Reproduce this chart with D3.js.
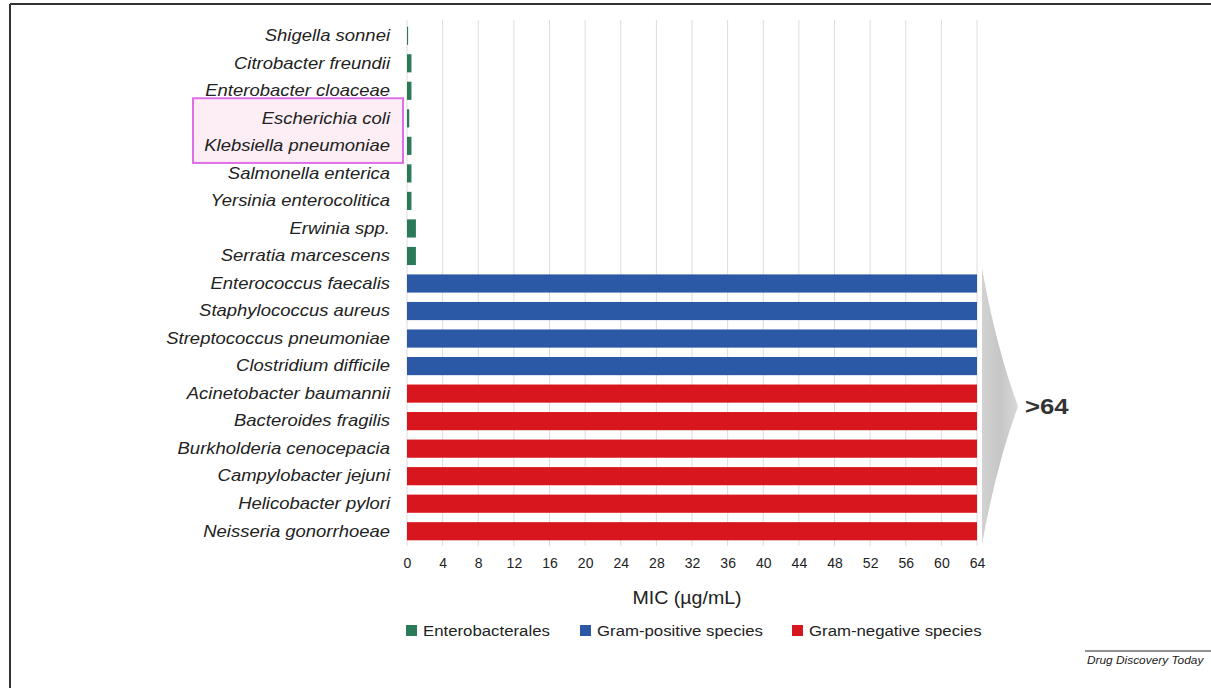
<!DOCTYPE html>
<html>
<head>
<meta charset="utf-8">
<script src="https://cdn.jsdelivr.net/npm/d3@7"></script>
<style>
  html, body { margin: 0; padding: 0; background: #fff; }
  svg { display: block; font-family: "Liberation Sans", Arial, sans-serif; }
</style>
</head>
<body>
<svg id="chart" width="1211" height="688"></svg>
<script>
// Species tested, top to bottom
const species = [
  "Shigella sonnei", "Citrobacter freundii", "Enterobacter cloaceae",
  "Escherichia coli", "Klebsiella pneumoniae", "Salmonella enterica",
  "Yersinia enterocolitica", "Erwinia spp.", "Serratia marcescens",
  "Enterococcus faecalis", "Staphylococcus aureus", "Streptococcus pneumoniae",
  "Clostridium difficile", "Acinetobacter baumannii", "Bacteroides fragilis",
  "Burkholderia cenocepacia", "Campylobacter jejuni", "Helicobacter pylori",
  "Neisseria gonorrhoeae"
];
// MIC values in µg/mL (64 stands for ">64")
const micValues = [
  0.125, 0.5, 0.5, 0.25, 0.5, 0.5, 0.5, 1, 1,
  64, 64, 64, 64,
  64, 64, 64, 64, 64, 64
];
// Group of each species
const groups = [
  "Enterobacterales", "Enterobacterales", "Enterobacterales",
  "Enterobacterales", "Enterobacterales", "Enterobacterales",
  "Enterobacterales", "Enterobacterales", "Enterobacterales",
  "Gram-positive species", "Gram-positive species", "Gram-positive species", "Gram-positive species",
  "Gram-negative species", "Gram-negative species", "Gram-negative species",
  "Gram-negative species", "Gram-negative species", "Gram-negative species"
];
const groupNames = ["Enterobacterales", "Gram-positive species", "Gram-negative species"];
const groupColors = ["#2a7a58", "#2c59a6", "#d8161d"];
const xTicks = [0, 4, 8, 12, 16, 20, 24, 28, 32, 36, 40, 44, 48, 52, 56, 60, 64];
const highlighted = ["Escherichia coli", "Klebsiella pneumoniae"];
const overflowLabel = ">64";

// text in this figure is set slightly wide
const STRETCH = 1.12;

const svg = d3.select("#chart");

// page frame (top and left rules) and journal credit
svg.append("line").attr("x1", 10).attr("x2", 1211).attr("y1", 4).attr("y2", 4)
  .attr("stroke", "#333").attr("stroke-width", 2);
svg.append("line").attr("x1", 10).attr("x2", 10).attr("y1", 4).attr("y2", 688)
  .attr("stroke", "#333").attr("stroke-width", 2);
svg.append("line").attr("x1", 1085).attr("x2", 1211).attr("y1", 651).attr("y2", 651)
  .attr("stroke", "#222").attr("stroke-width", 1);
svg.append("text").attr("transform", `translate(1087,664) scale(1.08,1)`)
  .attr("font-size", 11).attr("font-style", "italic").attr("fill", "#222")
  .text("Drug Discovery Today");

const x = d3.scaleLinear().domain([0, 64]).range([407, 977]);
const y = d3.scaleBand().domain(species).range([22, 545]).paddingInner(0.34).paddingOuter(0.17);
const color = d3.scaleOrdinal().domain(groupNames).range(groupColors);

// vertical gridlines
svg.append("g").selectAll("line").data(xTicks).join("line")
  .attr("x1", d => x(d)).attr("x2", d => x(d))
  .attr("y1", 20).attr("y2", 546)
  .attr("stroke", "#dcdcdc").attr("stroke-width", 1);

// highlight box around two species
const hlTop = y(highlighted[0]) - 11;
const hlBottom = y(highlighted[1]) + y.bandwidth() + 8;
svg.append("rect")
  .attr("x", 193).attr("y", hlTop)
  .attr("width", 210).attr("height", hlBottom - hlTop)
  .attr("fill", "#fceef4").attr("stroke", "#df6fe6").attr("stroke-width", 2);

// bars
const rows = species.map((s, i) => ({ s, v: micValues[i], g: groups[i] }));
svg.append("g").selectAll("rect").data(rows).join("rect")
  .attr("x", x(0))
  .attr("y", d => y(d.s))
  .attr("width", d => x(d.v) - x(0))
  .attr("height", y.bandwidth())
  .attr("fill", d => color(d.g));

// species labels
const yAxis = d3.axisLeft(y).tickSize(0).tickPadding(0);
const yg = svg.append("g").attr("transform", `translate(390,0)`).call(yAxis);
yg.select(".domain").remove();
yg.selectAll(".tick").attr("transform", d => `translate(0,${y(d) + y.bandwidth() / 2}) scale(${STRETCH},1)`);
yg.selectAll("text")
  .attr("font-size", 16.5).attr("font-style", "italic").attr("fill", "#222")
  .attr("font-family", "Liberation Sans, Arial, sans-serif");

// x axis tick labels
const xAxis = d3.axisBottom(x).tickValues(xTicks).tickSize(0).tickPadding(0);
const xg = svg.append("g").attr("transform", `translate(0,558)`).call(xAxis);
xg.select(".domain").remove();
xg.selectAll("text").attr("font-size", 14).attr("fill", "#222")
  .attr("font-family", "Liberation Sans, Arial, sans-serif");

svg.append("text").attr("transform", `translate(687,604) scale(${STRETCH},1)`)
  .attr("text-anchor", "middle")
  .attr("font-size", 17.5).attr("fill", "#222").text("MIC (µg/mL)");

// overflow chevron for the >64 species
const firstHigh = species[micValues.indexOf(64)];
const lastHigh = species[species.length - 1];
const defs = svg.append("defs");
const grad = defs.append("linearGradient").attr("id", "chev").attr("x1", 0).attr("x2", 1);
grad.append("stop").attr("offset", 0).attr("stop-color", "#d2d2d2");
grad.append("stop").attr("offset", 0.5).attr("stop-color", "#c6c6c6");
grad.append("stop").attr("offset", 1).attr("stop-color", "#d8d8d8");
const cTop = y(firstHigh) - 6, cBot = y(lastHigh) + y.bandwidth() + 4;
const cLeft = x(64) + 5, cTip = x(64) + 41, cMid = (cTop + cBot) / 2;
svg.append("path")
  .attr("d", `M${cLeft},${cTop} Q${cLeft + 14},${cMid - 60} ${cTip},${cMid} Q${cLeft + 14},${cMid + 60} ${cLeft},${cBot} Z`)
  .attr("fill", "url(#chev)");
svg.append("text").attr("transform", `translate(${cTip + 7},${cMid + 8}) scale(${STRETCH},1)`)
  .attr("font-size", 23).attr("font-weight", "bold").attr("fill", "#333")
  .text(overflowLabel);

// legend
const legendX = [406, 580, 792];
const lg = svg.append("g").selectAll("g").data(groupNames).join("g")
  .attr("transform", (d, i) => `translate(${legendX[i]},${625})`);
lg.append("rect").attr("width", 11).attr("height", 11).attr("fill", d => color(d));
lg.append("text").attr("transform", `translate(17,11) scale(${STRETCH},1)`)
  .attr("font-size", 15).attr("fill", "#222")
  .text(d => d);
</script>
</body>
</html>
